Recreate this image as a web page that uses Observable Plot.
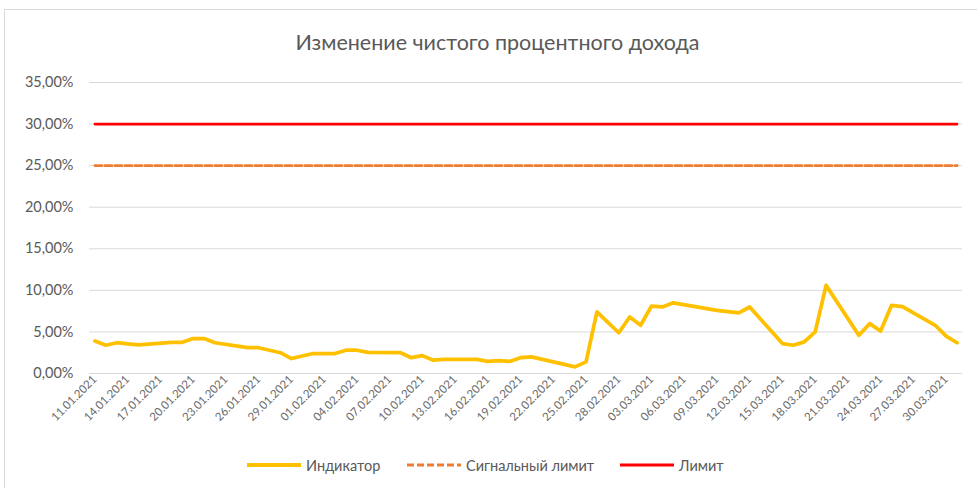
<!DOCTYPE html>
<html><head><meta charset="utf-8">
<script src="https://cdn.jsdelivr.net/npm/d3@7"></script>
<script src="https://cdn.jsdelivr.net/npm/@observablehq/plot@0.6"></script>
<style>
body{margin:0;background:#fff;font-family:Lato,"Open Sans",sans-serif;}
#wrap{position:relative;width:977px;height:488px;overflow:hidden;background:#fff;}
#frame{position:absolute;left:4px;top:9px;width:1000px;height:500px;border-top:1px solid #d9d9d9;border-left:1px solid #d9d9d9;}
#title{position:absolute;left:4px;width:987px;top:29px;text-align:center;font-size:21.5px;color:#595959;}
#chart{position:absolute;left:0;top:60px;}
#legend{position:absolute;top:455px;left:0;width:977px;height:20px;}
.item{position:absolute;top:0;height:20px;display:flex;align-items:center;font-size:14.5px;color:#595959;}
.item svg{margin-right:5px;}
</style></head>
<body>
<div id="wrap">
  <div id="frame"></div>
  <div id="title">Изменение чистого процентного дохода</div>
  <div id="chart"></div>
  <div id="legend"></div>
</div>
<script>
// ---- data ----
const dates = [
  "11.01.2021","12.01.2021","13.01.2021","14.01.2021","15.01.2021",
  "18.01.2021","19.01.2021","20.01.2021","21.01.2021","22.01.2021",
  "25.01.2021","26.01.2021","27.01.2021","28.01.2021","29.01.2021","31.01.2021",
  "01.02.2021","02.02.2021","03.02.2021","04.02.2021","05.02.2021",
  "08.02.2021","09.02.2021","10.02.2021","11.02.2021","12.02.2021",
  "15.02.2021","16.02.2021","17.02.2021","18.02.2021","19.02.2021","20.02.2021",
  "24.02.2021","25.02.2021","26.02.2021","28.02.2021",
  "01.03.2021","02.03.2021","03.03.2021","04.03.2021","05.03.2021",
  "09.03.2021","10.03.2021","11.03.2021","12.03.2021",
  "15.03.2021","16.03.2021","17.03.2021","18.03.2021","19.03.2021",
  "22.03.2021","23.03.2021","24.03.2021","25.03.2021","26.03.2021",
  "29.03.2021","30.03.2021","31.03.2021"
];
const indicator = [
  3.9, 3.4, 3.7, 3.55, 3.45,
  3.75, 3.75, 4.2, 4.2, 3.7,
  3.1, 3.1, 2.8, 2.5, 1.8, 2.4,
  2.4, 2.4, 2.8, 2.8, 2.55,
  2.5, 1.9, 2.15, 1.6, 1.7,
  1.7, 1.45, 1.55, 1.45, 1.9, 2.0,
  0.8, 1.4, 7.4, 4.9,
  6.8, 5.8, 8.1, 8.0, 8.5,
  7.6, 7.45, 7.3, 8.0,
  3.6, 3.4, 3.8, 5.0, 10.6,
  4.6, 6.0, 5.1, 8.2, 8.05,
  5.8, 4.5, 3.7
];
const signalLimit = 25;
const limit = 30;
const yTicks = [0, 5, 10, 15, 20, 25, 30, 35];
const xTickLabels = [
  "11.01.2021","14.01.2021","17.01.2021","20.01.2021","23.01.2021","26.01.2021","29.01.2021",
  "01.02.2021","04.02.2021","07.02.2021","10.02.2021","13.02.2021","16.02.2021","19.02.2021",
  "22.02.2021","25.02.2021","28.02.2021","03.03.2021","06.03.2021","09.03.2021","12.03.2021",
  "15.03.2021","18.03.2021","21.03.2021","24.03.2021","27.03.2021","30.03.2021"
];
const seriesNames = ["Индикатор", "Сигнальный лимит", "Лимит"];
const seriesColors = ["#FFC000", "#ED7D31", "#FF0000"];

// ---- build ----
const parse = d3.utcParse("%d.%m.%Y");
const fmt = d3.utcFormat("%d.%m.%Y");
const rows = dates.map((d, i) => ({date: parse(d), value: indicator[i] / 100}));
const half = 12 * 3600 * 1000;
const x0 = new Date(+rows[0].date - half);
const x1 = new Date(+rows[rows.length - 1].date + half);

const chart = Plot.plot({
  width: 977,
  height: 380,
  marginLeft: 89,
  marginRight: 15,
  marginTop: 22,
  marginBottom: 67,
  style: {fontFamily: "Lato, 'Open Sans', sans-serif", color: "#595959", background: "transparent"},
  x: {type: "utc", domain: [x0, x1]},
  y: {domain: [0, 0.35]},
  marks: [
    Plot.gridY(yTicks.map(v => v / 100), {stroke: "#d9d9d9", strokeOpacity: 1, strokeWidth: 1}),
    Plot.axisY(yTicks.map(v => v / 100), {
      tickSize: 0, tickPadding: 16, label: null, fontSize: 14.5, fill: "#595959",
      tickFormat: v => (v * 100).toFixed(2).replace(".", ",") + "%"
    }),
    Plot.axisX(xTickLabels.map(parse), {
      tickSize: 0, tickPadding: 4, tickRotate: -45, label: null, fontSize: 11.5, fill: "#6a6a6a",
      tickFormat: fmt
    }),
    Plot.lineY(rows, {x: "date", y: "value", stroke: seriesColors[0], strokeWidth: 3.75, strokeLinejoin: "round"}),
    Plot.lineY(rows, {x: "date", y: () => signalLimit / 100, stroke: seriesColors[1], strokeWidth: 2.75, strokeDasharray: "7,3"}),
    Plot.lineY(rows, {x: "date", y: () => limit / 100, stroke: seriesColors[2], strokeWidth: 2.75})
  ]
});
document.getElementById("chart").appendChild(chart);

// ---- legend ----
const legend = document.getElementById("legend");
const lefts = [247, 407, 620];
seriesNames.forEach((name, i) => {
  const item = document.createElement("div");
  item.className = "item";
  item.style.left = lefts[i] + "px";
  const dash = i === 1 ? ' stroke-dasharray="7,3"' : "";
  const sw = i === 0 ? 4 : 3;
  item.innerHTML = `<svg width="54" height="10"><line x1="0" y1="5" x2="54" y2="5" stroke="${seriesColors[i]}" stroke-width="${sw}"${dash}/></svg><span>${name}</span>`;
  legend.appendChild(item);
});
</script>
</body></html>
